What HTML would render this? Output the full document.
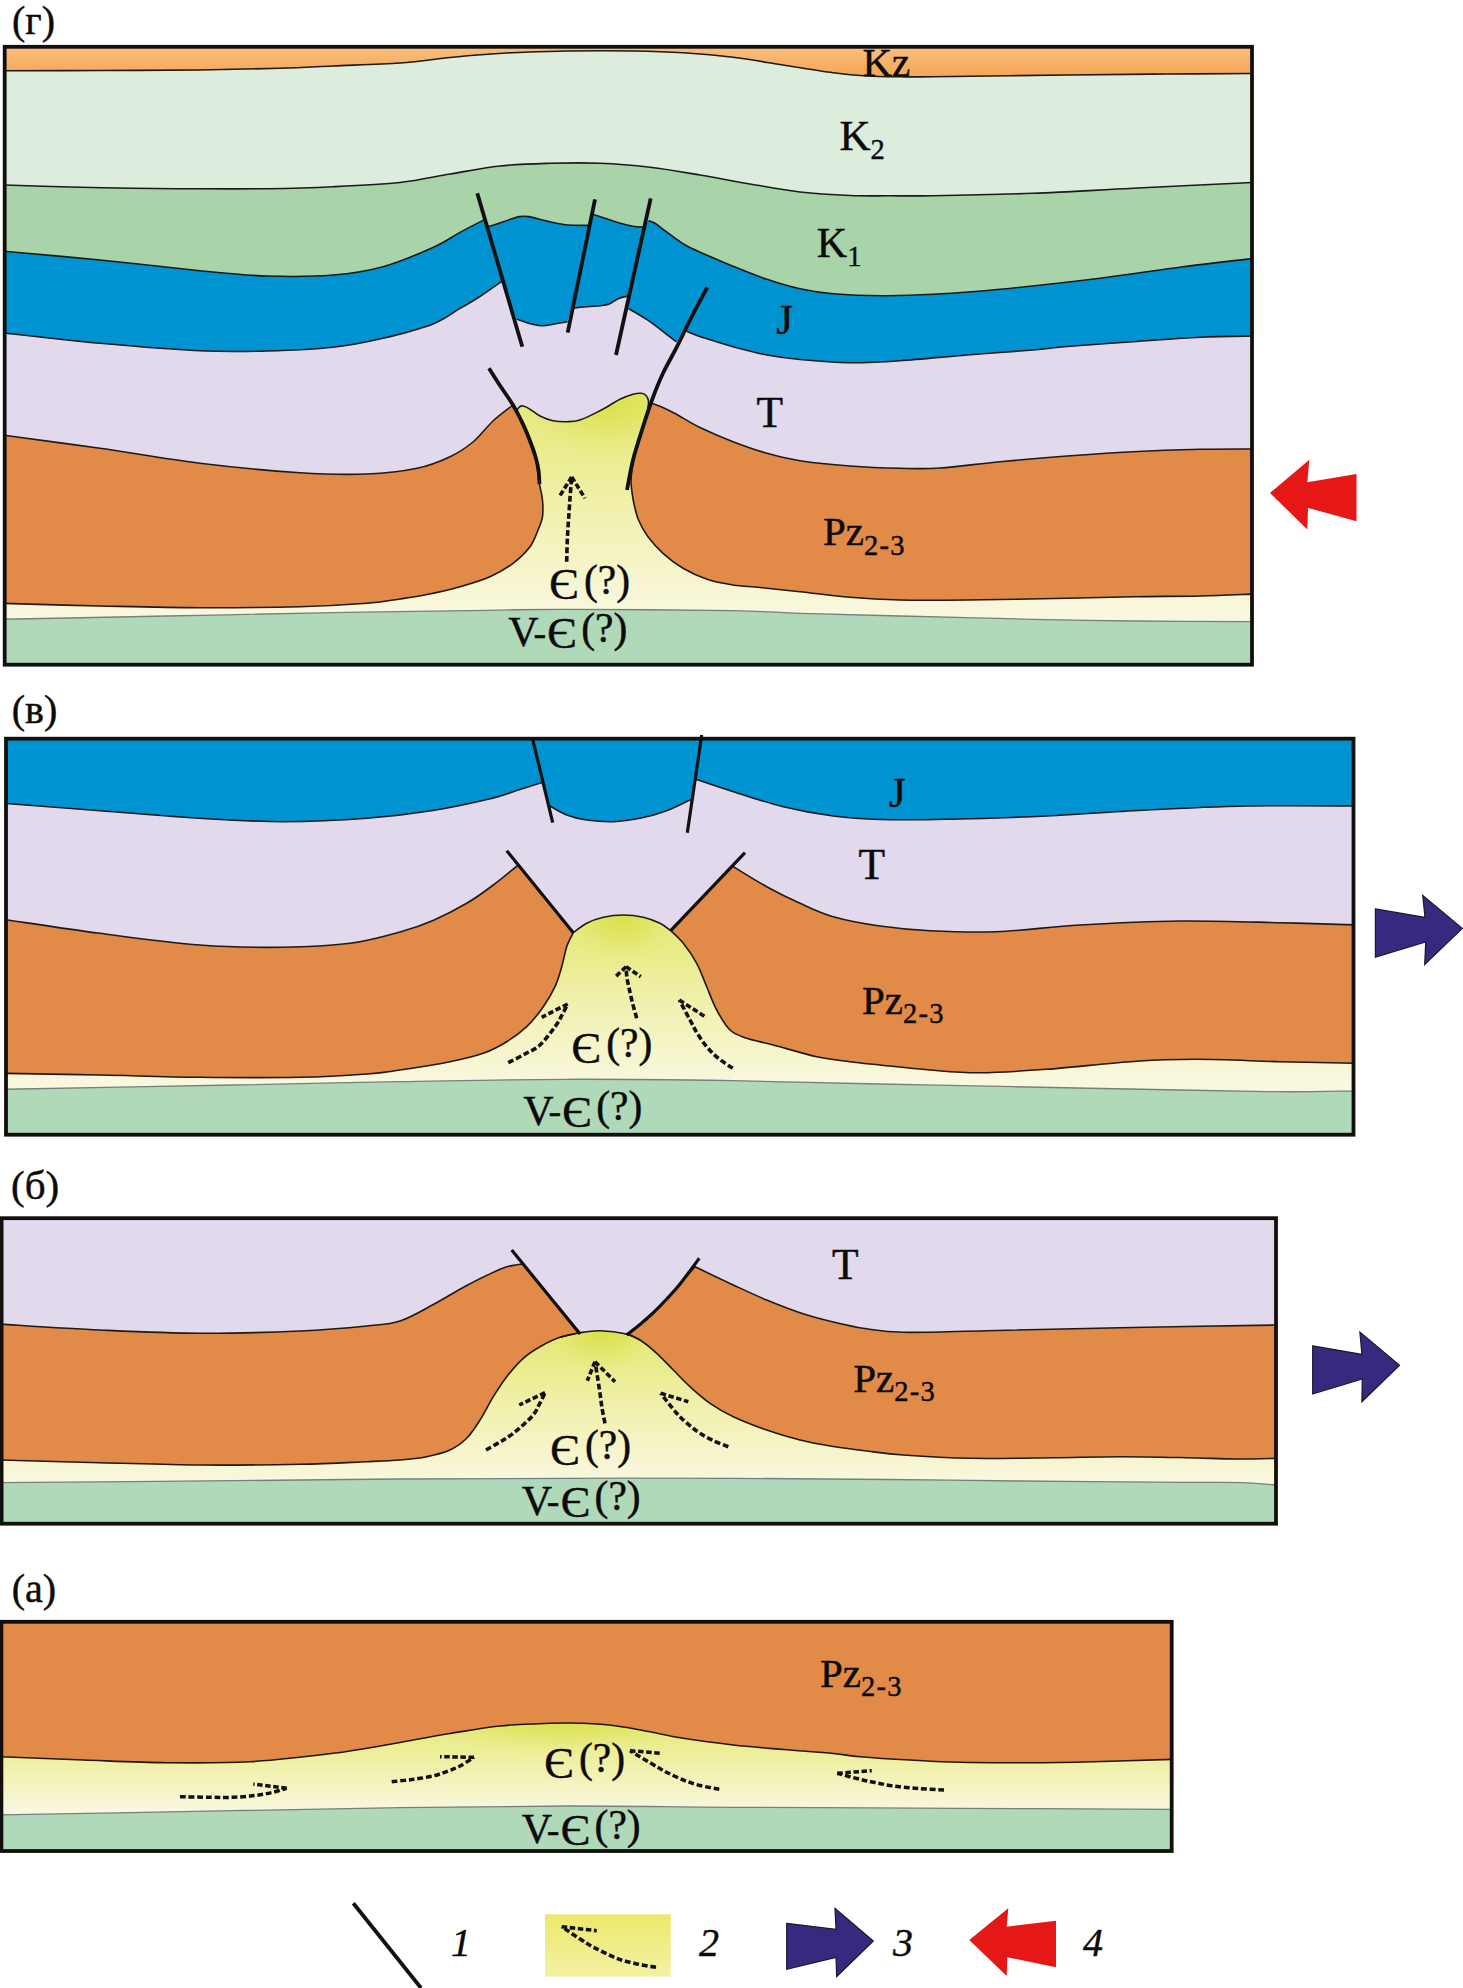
<!DOCTYPE html>
<html lang="ru">
<head>
<meta charset="utf-8">
<title>Схема формирования соляного диапира</title>
<style>
html,body{margin:0;padding:0;background:#fff;}
body{width:1463px;height:1988px;overflow:hidden;}
svg{display:block;}
svg text{font-family:"Liberation Serif","Times New Roman",serif;fill:#0d0b0a;stroke:#0d0b0a;stroke-width:0.45px;}
</style>
</head>
<body>
<svg width="1463" height="1988" viewBox="0 0 1463 1988">
<rect width="1463" height="1988" fill="#fff"/>
<linearGradient id="gkz" gradientUnits="userSpaceOnUse" x1="0" y1="47" x2="0" y2="76"><stop offset="0" stop-color="#f9be7e"/><stop offset="1" stop-color="#f5a655"/></linearGradient>
<linearGradient id="gy1" gradientUnits="userSpaceOnUse" x1="0" y1="395" x2="0" y2="612"><stop offset="0" stop-color="#e5e878"/><stop offset="0.23" stop-color="#e9ec8a"/><stop offset="0.49" stop-color="#f0f0aa"/><stop offset="0.74" stop-color="#f4f4c4"/><stop offset="1" stop-color="#f9f7de"/></linearGradient>
<clipPath id="cg"><rect x="4.7" y="46.8" width="1247.3" height="617.9"/></clipPath>
<g clip-path="url(#cg)">
<rect x="0" y="40" width="1260" height="40" fill="url(#gkz)"/>
<path d="M1.7 70.8C18.1 70.8 66.9 70.6 100 70.5C133.1 70.4 170 70.4 200 70C230 69.6 257.8 69 280 68.3C302.2 67.6 313 66.9 333 66C353 65.1 380.5 64.4 400 63C419.5 61.6 435.3 59 450 57.5C464.7 56 476.8 55.1 488 54.3C499.2 53.5 503.8 53 517 52.5C530.2 52 547.7 51.2 567 51C586.3 50.8 613.7 50.7 633 51C652.3 51.3 666.3 51.7 683 52.7C699.7 53.8 716.3 55.2 733 57.3C749.7 59.3 766.3 62.4 783 65C799.7 67.6 819 70.9 833 72.7C847 74.5 855.8 75.3 867 76C878.2 76.7 889 76.7 900 76.8C911 76.9 905.2 77 933 76.7C960.8 76.4 1028 75.5 1067 75C1106 74.5 1135.7 74.2 1167 74C1198.3 73.8 1240.3 73.6 1255 73.5L1255 700 L1.7 700 Z" fill="#dcedde" />
<path d="M1.7 70.8C18.1 70.8 66.9 70.6 100 70.5C133.1 70.4 170 70.4 200 70C230 69.6 257.8 69 280 68.3C302.2 67.6 313 66.9 333 66C353 65.1 380.5 64.4 400 63C419.5 61.6 435.3 59 450 57.5C464.7 56 476.8 55.1 488 54.3C499.2 53.5 503.8 53 517 52.5C530.2 52 547.7 51.2 567 51C586.3 50.8 613.7 50.7 633 51C652.3 51.3 666.3 51.7 683 52.7C699.7 53.8 716.3 55.2 733 57.3C749.7 59.3 766.3 62.4 783 65C799.7 67.6 819 70.9 833 72.7C847 74.5 855.8 75.3 867 76C878.2 76.7 889 76.7 900 76.8C911 76.9 905.2 77 933 76.7C960.8 76.4 1028 75.5 1067 75C1106 74.5 1135.7 74.2 1167 74C1198.3 73.8 1240.3 73.6 1255 73.5" fill="none" stroke="#1d1a17" stroke-width="1.6" />
<path d="M1.7 185C13.1 185.3 48.1 186.4 70 187C91.9 187.6 111.3 188 133 188.3C154.7 188.6 177.7 188.7 200 188.8C222.3 188.9 244.8 189 267 188.7C289.2 188.3 310.8 187.7 333 186.7C355.2 185.7 380.5 184.6 400 182.5C419.5 180.4 433.3 176.8 450 174C466.7 171.2 483.3 167.8 500 166C516.7 164.2 533.3 163.8 550 163.3C566.7 162.9 583.3 162.6 600 163.3C616.7 164 633.3 165.4 650 167.3C666.7 169.2 683.3 172.2 700 175C716.7 177.8 733.3 181.2 750 184C766.7 186.8 783.3 190.1 800 192C816.7 193.9 835.3 194.9 850 195.5C864.7 196.1 874.2 195.8 888 195.8C901.8 195.8 908.8 196.1 933 195.7C957.2 195.3 999.7 194.5 1033 193.3C1066.3 192.1 1096 190.1 1133 188.3C1170 186.5 1234.7 183.3 1255 182.3L1255 700 L1.7 700 Z" fill="#a9d4aa" />
<path d="M1.7 185C13.1 185.3 48.1 186.4 70 187C91.9 187.6 111.3 188 133 188.3C154.7 188.6 177.7 188.7 200 188.8C222.3 188.9 244.8 189 267 188.7C289.2 188.3 310.8 187.7 333 186.7C355.2 185.7 380.5 184.6 400 182.5C419.5 180.4 433.3 176.8 450 174C466.7 171.2 483.3 167.8 500 166C516.7 164.2 533.3 163.8 550 163.3C566.7 162.9 583.3 162.6 600 163.3C616.7 164 633.3 165.4 650 167.3C666.7 169.2 683.3 172.2 700 175C716.7 177.8 733.3 181.2 750 184C766.7 186.8 783.3 190.1 800 192C816.7 193.9 835.3 194.9 850 195.5C864.7 196.1 874.2 195.8 888 195.8C901.8 195.8 908.8 196.1 933 195.7C957.2 195.3 999.7 194.5 1033 193.3C1066.3 192.1 1096 190.1 1133 188.3C1170 186.5 1234.7 183.3 1255 182.3" fill="none" stroke="#1d1a17" stroke-width="1.6" />
<path d="M1.7 251C18.1 252.5 66.9 256.7 100 260C133.1 263.3 172.2 268 200 270.7C227.8 273.4 244.8 275.3 267 276C289.2 276.7 313.7 276.6 333 275C352.3 273.4 366.3 271.3 383 266.7C399.7 262.1 420.2 253.2 433 247.5C445.8 241.8 451.6 237 460 232.4C468.4 227.8 479.4 222.2 483.3 220.2L488.7 226.6C491.6 225.7 500.8 222.6 505.9 220.9C511 219.2 515.5 217.3 519.3 216.6C523.1 215.9 524.4 215.9 528.9 216.6C533.4 217.3 540 219.6 546.1 220.9C552.2 222.2 558.3 223.9 565.3 224.7C572.3 225.4 584.4 225.3 588.2 225.4L593.6 214.6C595.5 215.2 600.8 216.9 605 218.3C609.2 219.7 614 221.5 618.7 222.8C623.4 224.1 629.1 225.6 633.1 226.3C637.1 227 641.4 227 643 227.1L648.3 220.7C649.4 221.1 652 221.4 655.1 223.3C658.2 225.2 661.5 228.2 666.6 231.9C671.7 235.6 679.3 241.6 685.7 245.3C692.1 249 696.9 250.7 704.8 254.2C712.7 257.7 722.6 262 733 266.2C743.4 270.4 755.8 275.5 767 279.3C778.2 283.1 789 286.4 800 288.8C811 291.2 819.2 292.6 833 293.7C846.8 294.8 866.3 295.6 883 295.7C899.7 295.8 913.5 295.4 933 294.3C952.5 293.2 972.2 292 1000 289.3C1027.8 286.6 1069.5 282.1 1100 278.3C1130.5 274.5 1157.2 270 1183 266.7C1208.8 263.4 1243 259.7 1255 258.3L1255 700 L1.7 700 Z" fill="#0093d1" />
<path d="M1.7 251C18.1 252.5 66.9 256.7 100 260C133.1 263.3 172.2 268 200 270.7C227.8 273.4 244.8 275.3 267 276C289.2 276.7 313.7 276.6 333 275C352.3 273.4 366.3 271.3 383 266.7C399.7 262.1 420.2 253.2 433 247.5C445.8 241.8 451.6 237 460 232.4C468.4 227.8 479.4 222.2 483.3 220.2" fill="none" stroke="#1d1a17" stroke-width="1.6" />
<path d="M488.7 226.6C491.6 225.7 500.8 222.6 505.9 220.9C511 219.2 515.5 217.3 519.3 216.6C523.1 215.9 524.4 215.9 528.9 216.6C533.4 217.3 540 219.6 546.1 220.9C552.2 222.2 558.3 223.9 565.3 224.7C572.3 225.4 584.4 225.3 588.2 225.4" fill="none" stroke="#1d1a17" stroke-width="1.6" />
<path d="M593.6 214.6C595.5 215.2 600.8 216.9 605 218.3C609.2 219.7 614 221.5 618.7 222.8C623.4 224.1 629.1 225.6 633.1 226.3C637.1 227 641.4 227 643 227.1" fill="none" stroke="#1d1a17" stroke-width="1.6" />
<path d="M648.3 220.7C649.4 221.1 652 221.4 655.1 223.3C658.2 225.2 661.5 228.2 666.6 231.9C671.7 235.6 679.3 241.6 685.7 245.3C692.1 249 696.9 250.7 704.8 254.2C712.7 257.7 722.6 262 733 266.2C743.4 270.4 755.8 275.5 767 279.3C778.2 283.1 789 286.4 800 288.8C811 291.2 819.2 292.6 833 293.7C846.8 294.8 866.3 295.6 883 295.7C899.7 295.8 913.5 295.4 933 294.3C952.5 293.2 972.2 292 1000 289.3C1027.8 286.6 1069.5 282.1 1100 278.3C1130.5 274.5 1157.2 270 1183 266.7C1208.8 263.4 1243 259.7 1255 258.3" fill="none" stroke="#1d1a17" stroke-width="1.6" />
<path d="M1.7 332.7C18.1 334.5 66.9 340.3 100 343.3C133.1 346.3 172.2 349.4 200 350.7C227.8 352 244.8 351.6 267 351C289.2 350.4 313.7 349.4 333 347.3C352.3 345.2 366.3 342.2 383 338.3C399.7 334.4 420.2 329 433 324C445.8 319 452.3 312.9 460 308.4C467.7 303.9 472.2 301.5 479.1 297C486 292.5 497.8 284.1 501.5 281.5L516.5 319C518.2 319.6 522.9 321.7 527 322.8C531.1 323.9 536.5 325.5 541.3 325.7C546.1 325.9 551.3 324.5 555.7 323.8C560.1 323.1 565.5 322.1 567.5 321.7L571 308.4C573.2 308.2 579.6 307.4 584.4 307C589.2 306.6 595.9 306.3 600 305.8C604.1 305.3 606 305.3 609.1 304.1C612.2 302.9 615.5 299.8 618.7 298.4C621.9 297 626.9 296.4 628.5 296L628.3 308.4C631.5 310.3 641 315.6 647.4 319.9C653.8 324.2 661.8 330.6 666.6 334.3C671.5 338 674.9 340.7 676.5 342L686.5 331.3C689.5 332.4 697 335.5 704.8 338.1C712.5 340.7 722.6 343.9 733 346.7C743.4 349.5 755.8 352.9 767 355C778.2 357.1 786.2 358.2 800 359.5C813.8 360.8 833.3 362.5 850 362.7C866.7 362.9 880.5 362 900 360.7C919.5 359.4 944.8 356.8 967 355C989.2 353.2 1016.3 351.4 1033 350C1049.7 348.6 1050.3 347.9 1067 346.5C1083.7 345.1 1110.8 343.2 1133 341.7C1155.2 340.2 1179.7 338.2 1200 337.3C1220.3 336.4 1245.8 336.2 1255 336L1255 700 L1.7 700 Z" fill="#e2d9ed" />
<path d="M1.7 332.7C18.1 334.5 66.9 340.3 100 343.3C133.1 346.3 172.2 349.4 200 350.7C227.8 352 244.8 351.6 267 351C289.2 350.4 313.7 349.4 333 347.3C352.3 345.2 366.3 342.2 383 338.3C399.7 334.4 420.2 329 433 324C445.8 319 452.3 312.9 460 308.4C467.7 303.9 472.2 301.5 479.1 297C486 292.5 497.8 284.1 501.5 281.5" fill="none" stroke="#1d1a17" stroke-width="1.6" />
<path d="M516.5 319C518.2 319.6 522.9 321.7 527 322.8C531.1 323.9 536.5 325.5 541.3 325.7C546.1 325.9 551.3 324.5 555.7 323.8C560.1 323.1 565.5 322.1 567.5 321.7" fill="none" stroke="#1d1a17" stroke-width="1.6" />
<path d="M571 308.4C573.2 308.2 579.6 307.4 584.4 307C589.2 306.6 595.9 306.3 600 305.8C604.1 305.3 606 305.3 609.1 304.1C612.2 302.9 615.5 299.8 618.7 298.4C621.9 297 626.9 296.4 628.5 296" fill="none" stroke="#1d1a17" stroke-width="1.6" />
<path d="M628.3 308.4C631.5 310.3 641 315.6 647.4 319.9C653.8 324.2 661.8 330.6 666.6 334.3C671.5 338 674.9 340.7 676.5 342" fill="none" stroke="#1d1a17" stroke-width="1.6" />
<path d="M686.5 331.3C689.5 332.4 697 335.5 704.8 338.1C712.5 340.7 722.6 343.9 733 346.7C743.4 349.5 755.8 352.9 767 355C778.2 357.1 786.2 358.2 800 359.5C813.8 360.8 833.3 362.5 850 362.7C866.7 362.9 880.5 362 900 360.7C919.5 359.4 944.8 356.8 967 355C989.2 353.2 1016.3 351.4 1033 350C1049.7 348.6 1050.3 347.9 1067 346.5C1083.7 345.1 1110.8 343.2 1133 341.7C1155.2 340.2 1179.7 338.2 1200 337.3C1220.3 336.4 1245.8 336.2 1255 336" fill="none" stroke="#1d1a17" stroke-width="1.6" />
<path d="M1.7 603.3C18.1 603.8 66.9 605.3 100 606C133.1 606.7 166.7 607.6 200 607.7C233.3 607.8 272.2 607.4 300 606.7C327.8 606 350.3 604.6 367 603.3C383.7 602 390 600.5 400 599C410 597.5 417 596.5 427 594.5C437 592.5 449.5 589.7 460 586.7C470.5 583.7 481.2 580.6 490 576.7C498.8 572.8 506.3 568.3 513 563.3C519.7 558.3 525.8 552.2 530 546.7C534.2 541.2 535.9 535 538 530C540.1 525 541.8 521.7 542.5 516.7C543.2 511.7 543 505.4 542.5 500C542 494.6 540.8 491.5 539.5 484C538.2 476.5 537.1 463.4 535 455C532.9 446.6 529.4 439.3 527 433.3C524.6 427.3 522.8 423.7 520.5 419C518.2 414.3 514.2 407.3 513 405L517 410C517.4 409.5 518.5 407.5 519.5 406.8C520.5 406.1 521.4 405.7 523 406C524.6 406.3 526.2 406.9 529 408.6C531.8 410.3 536 414 540 416C544 418 548.5 419.8 553 420.7C557.5 421.6 562.5 421.8 567 421.7C571.5 421.6 574.5 421.8 580 420C585.5 418.2 593.3 414.1 600 410.7C606.7 407.2 614.5 402 620 399.3C625.5 396.6 629.5 395.3 633 394.3C636.5 393.3 638.8 393.1 641 393.3C643.2 393.5 644.8 394.2 646 395.5C647.2 396.8 648.2 398.9 648.5 401C648.8 403.1 648.1 406.8 648 408L650.5 402.5C649.8 404.8 647.4 411.4 646 416C644.6 420.6 644.1 422.7 642 430C639.9 437.3 635.3 451.7 633.5 460C631.7 468.3 631.2 474.7 631 480C630.8 485.3 631.5 488 632 492C632.5 496 632.9 499.3 634 504C635.1 508.7 636.2 514.5 638.5 520C640.8 525.5 643.9 531.2 648 536.7C652.1 542.2 657.2 548 663 553.3C668.8 558.6 675.7 564 683 568.3C690.3 572.6 698.7 576.5 707 579.3C715.3 582.1 724.2 583.6 733 585C741.8 586.4 748.8 586.4 760 587.5C771.2 588.6 785 590.1 800 591.7C815 593.3 833.3 595.9 850 597.3C866.7 598.7 880.5 599.5 900 600C919.5 600.5 939.2 600.3 967 600C994.8 599.7 1039.3 598.8 1067 598.3C1094.7 597.8 1110.8 597.1 1133 596.7C1155.2 596.3 1179.7 596.5 1200 596C1220.3 595.5 1245.8 594.3 1255 594L1255 700 L1.7 700 Z" fill="url(#gy1)" />
<path d="M527 433.3C528.3 436.9 532.9 446.6 535 455C537.1 463.4 538.2 476.5 539.5 484C540.8 491.5 542 494.6 542.5 500C543 505.4 543.2 511.7 542.5 516.7C541.8 521.7 540.1 525 538 530C535.9 535 534.2 541.2 530 546.7C525.8 552.2 519.7 558.3 513 563.3C506.3 568.3 498.8 572.8 490 576.7C481.2 580.6 470.5 583.7 460 586.7C449.5 589.7 437 592.5 427 594.5C417 596.5 410 597.5 400 599C390 600.5 383.7 602 367 603.3C350.3 604.6 327.8 606 300 606.7C272.2 607.4 233.3 607.8 200 607.7C166.7 607.6 133.1 606.7 100 606C66.9 605.3 18.1 603.8 1.7 603.3" fill="none" stroke="url(#gy1)" stroke-width="7"/>
<path d="M642 430C640.6 435 635.3 451.7 633.5 460C631.7 468.3 631.2 474.7 631 480C630.8 485.3 631.5 488 632 492C632.5 496 632.9 499.3 634 504C635.1 508.7 636.2 514.5 638.5 520C640.8 525.5 643.9 531.2 648 536.7C652.1 542.2 657.2 548 663 553.3C668.8 558.6 675.7 564 683 568.3C690.3 572.6 698.7 576.5 707 579.3C715.3 582.1 724.2 583.6 733 585C741.8 586.4 748.8 586.4 760 587.5C771.2 588.6 785 590.1 800 591.7C815 593.3 833.3 595.9 850 597.3C866.7 598.7 880.5 599.5 900 600C919.5 600.5 939.2 600.3 967 600C994.8 599.7 1039.3 598.8 1067 598.3C1094.7 597.8 1110.8 597.1 1133 596.7C1155.2 596.3 1179.7 596.5 1200 596C1220.3 595.5 1245.8 594.3 1255 594" fill="none" stroke="url(#gy1)" stroke-width="7"/>
<radialGradient id="yc1g" gradientUnits="userSpaceOnUse" cx="0" cy="0" r="1" gradientTransform="translate(606 399) scale(92 60)"><stop offset="0" stop-color="#d8df48" stop-opacity="0.95"/><stop offset="0.45" stop-color="#dce252" stop-opacity="0.589"/><stop offset="1" stop-color="#e6e97c" stop-opacity="0"/></radialGradient>
<clipPath id="yc1"><path d="M1.7 603.3C18.1 603.8 66.9 605.3 100 606C133.1 606.7 166.7 607.6 200 607.7C233.3 607.8 272.2 607.4 300 606.7C327.8 606 350.3 604.6 367 603.3C383.7 602 390 600.5 400 599C410 597.5 417 596.5 427 594.5C437 592.5 449.5 589.7 460 586.7C470.5 583.7 481.2 580.6 490 576.7C498.8 572.8 506.3 568.3 513 563.3C519.7 558.3 525.8 552.2 530 546.7C534.2 541.2 535.9 535 538 530C540.1 525 541.8 521.7 542.5 516.7C543.2 511.7 543 505.4 542.5 500C542 494.6 540.8 491.5 539.5 484C538.2 476.5 537.1 463.4 535 455C532.9 446.6 529.4 439.3 527 433.3C524.6 427.3 522.8 423.7 520.5 419C518.2 414.3 514.2 407.3 513 405L517 410C517.4 409.5 518.5 407.5 519.5 406.8C520.5 406.1 521.4 405.7 523 406C524.6 406.3 526.2 406.9 529 408.6C531.8 410.3 536 414 540 416C544 418 548.5 419.8 553 420.7C557.5 421.6 562.5 421.8 567 421.7C571.5 421.6 574.5 421.8 580 420C585.5 418.2 593.3 414.1 600 410.7C606.7 407.2 614.5 402 620 399.3C625.5 396.6 629.5 395.3 633 394.3C636.5 393.3 638.8 393.1 641 393.3C643.2 393.5 644.8 394.2 646 395.5C647.2 396.8 648.2 398.9 648.5 401C648.8 403.1 648.1 406.8 648 408L650.5 402.5C649.8 404.8 647.4 411.4 646 416C644.6 420.6 644.1 422.7 642 430C639.9 437.3 635.3 451.7 633.5 460C631.7 468.3 631.2 474.7 631 480C630.8 485.3 631.5 488 632 492C632.5 496 632.9 499.3 634 504C635.1 508.7 636.2 514.5 638.5 520C640.8 525.5 643.9 531.2 648 536.7C652.1 542.2 657.2 548 663 553.3C668.8 558.6 675.7 564 683 568.3C690.3 572.6 698.7 576.5 707 579.3C715.3 582.1 724.2 583.6 733 585C741.8 586.4 748.8 586.4 760 587.5C771.2 588.6 785 590.1 800 591.7C815 593.3 833.3 595.9 850 597.3C866.7 598.7 880.5 599.5 900 600C919.5 600.5 939.2 600.3 967 600C994.8 599.7 1039.3 598.8 1067 598.3C1094.7 597.8 1110.8 597.1 1133 596.7C1155.2 596.3 1179.7 596.5 1200 596C1220.3 595.5 1245.8 594.3 1255 594L1255 700 L1.7 700 Z"/></clipPath>
<ellipse cx="606" cy="399" rx="92" ry="60" fill="url(#yc1g)" clip-path="url(#yc1)"/>
<path d="M1.7 435C18.1 437.2 66.9 443.6 100 448.3C133.1 453 166.7 459.2 200 463.3C233.3 467.4 272.2 470.9 300 472.7C327.8 474.5 347.5 474.7 367 474C386.5 473.3 403.2 471.2 417 468.3C430.8 465.4 440.7 461.1 450 456.7C459.3 452.3 465.8 447.9 473 442C480.2 436.1 486.3 427.2 493 421C499.7 414.8 509.7 407.7 513 405C514.2 407.3 518.2 414.3 520.5 419C522.8 423.7 524.6 427.3 527 433.3C529.4 439.3 532.9 446.6 535 455C537.1 463.4 538.2 476.5 539.5 484C540.8 491.5 542 494.6 542.5 500C543 505.4 543.2 511.7 542.5 516.7C541.8 521.7 540.1 525 538 530C535.9 535 534.2 541.2 530 546.7C525.8 552.2 519.7 558.3 513 563.3C506.3 568.3 498.8 572.8 490 576.7C481.2 580.6 470.5 583.7 460 586.7C449.5 589.7 437 592.5 427 594.5C417 596.5 410 597.5 400 599C390 600.5 383.7 602 367 603.3C350.3 604.6 327.8 606 300 606.7C272.2 607.4 233.3 607.8 200 607.7C166.7 607.6 133.1 606.7 100 606C66.9 605.3 18.1 603.8 1.7 603.3Z" fill="#e28a47" stroke="#1d1a17" stroke-width="1.6"/>
<path d="M1255 449C1245.8 449.1 1220.3 448.9 1200 449.3C1179.7 449.8 1155.2 450.6 1133 451.7C1110.8 452.8 1089.2 454.3 1067 456C1044.8 457.7 1021.2 459.7 1000 461.7C978.8 463.7 956.7 466.9 940 468C923.3 469.1 915 468.6 900 468.3C885 468 866.7 467.3 850 466C833.3 464.7 813.8 462.8 800 460.7C786.2 458.6 778.2 456.5 767 453.3C755.8 450.1 744.2 446 733 441.7C721.8 437.4 709.7 432.2 700 427.5C690.3 422.8 681.7 417 675 413.5C668.3 410 664.1 408.1 660 406.3C655.9 404.5 652.1 403.1 650.5 402.5C649.8 404.8 647.4 411.4 646 416C644.6 420.6 644.1 422.7 642 430C639.9 437.3 635.3 451.7 633.5 460C631.7 468.3 631.2 474.7 631 480C630.8 485.3 631.5 488 632 492C632.5 496 632.9 499.3 634 504C635.1 508.7 636.2 514.5 638.5 520C640.8 525.5 643.9 531.2 648 536.7C652.1 542.2 657.2 548 663 553.3C668.8 558.6 675.7 564 683 568.3C690.3 572.6 698.7 576.5 707 579.3C715.3 582.1 724.2 583.6 733 585C741.8 586.4 748.8 586.4 760 587.5C771.2 588.6 785 590.1 800 591.7C815 593.3 833.3 595.9 850 597.3C866.7 598.7 880.5 599.5 900 600C919.5 600.5 939.2 600.3 967 600C994.8 599.7 1039.3 598.8 1067 598.3C1094.7 597.8 1110.8 597.1 1133 596.7C1155.2 596.3 1179.7 596.5 1200 596C1220.3 595.5 1245.8 594.3 1255 594Z" fill="#e28a47" stroke="#1d1a17" stroke-width="1.6"/>
<path d="M1.7 619.3C29.2 618.8 111.8 617.1 167 616C222.2 614.9 279.5 613.7 333 612.7C386.5 611.8 449 610.9 488 610.3C527 609.7 526.2 609.2 567 609.3C607.8 609.4 694.2 610 733 610.7C771.8 611.4 772.2 612.4 800 613.3C827.8 614.2 861.2 615 900 616C938.8 617 994.2 618.5 1033 619.3C1071.8 620.1 1096 620.6 1133 621C1170 621.4 1234.7 621.6 1255 621.7L1255 700 L1.7 700 Z" fill="#b0d9ba" />
<path d="M1.7 619.3C29.2 618.8 111.8 617.1 167 616C222.2 614.9 279.5 613.7 333 612.7C386.5 611.8 449 610.9 488 610.3C527 609.7 526.2 609.2 567 609.3C607.8 609.4 694.2 610 733 610.7C771.8 611.4 772.2 612.4 800 613.3C827.8 614.2 861.2 615 900 616C938.8 617 994.2 618.5 1033 619.3C1071.8 620.1 1096 620.6 1133 621C1170 621.4 1234.7 621.6 1255 621.7" fill="none" stroke="#77807a" stroke-width="1.3" />
<path d="M517 410C517.4 409.5 518.5 407.5 519.5 406.8C520.5 406.1 521.4 405.7 523 406C524.6 406.3 526.2 406.9 529 408.6C531.8 410.3 536 414 540 416C544 418 548.5 419.8 553 420.7C557.5 421.6 562.5 421.8 567 421.7C571.5 421.6 574.5 421.8 580 420C585.5 418.2 593.3 414.1 600 410.7C606.7 407.2 614.5 402 620 399.3C625.5 396.6 629.5 395.3 633 394.3C636.5 393.3 638.8 393.1 641 393.3C643.2 393.5 644.8 394.2 646 395.5C647.2 396.8 648.2 398.9 648.5 401C648.8 403.1 648.1 406.8 648 408" fill="none" stroke="#1d1a17" stroke-width="1.6" />
</g>
<path d="M477.3 193.3L522.3 346.7" fill="none" stroke="#111" stroke-width="3.8" stroke-linecap="butt"/>
<path d="M595 199.3L567.7 332.7" fill="none" stroke="#111" stroke-width="3.8" stroke-linecap="butt"/>
<path d="M650.7 198.3L616 355" fill="none" stroke="#111" stroke-width="3.8" stroke-linecap="butt"/>
<path d="M707.3 287.3C704.4 292.8 695 310.1 690 320C685 329.9 681.5 337.8 677 346.7C672.5 355.6 667.2 364.4 663 373.3C658.8 382.2 655.5 390.6 652 400C648.5 409.4 645.2 420 642 430C638.8 440 635.5 450 633 460C630.5 470 628 485 627 490" fill="none" stroke="#111" stroke-width="3.8" stroke-linecap="butt"/>
<path d="M489 368.3C491 371.4 497 380.9 501 387C505 393.1 509.8 399.7 513 405C516.2 410.3 518.2 414.3 520.5 419C522.8 423.7 524.6 427.3 527 433.3C529.4 439.3 533.1 448.9 535 455C536.9 461.1 537.8 465.2 538.5 470C539.2 474.8 539.3 481.7 539.5 484" fill="none" stroke="#111" stroke-width="3.8" stroke-linecap="butt"/>
<path d="M566.7 561.7C566.8 558.1 567 547 567.3 540C567.6 533 568 527 568.5 520C569 513 569.5 505.2 570 498C570.5 490.8 571.4 480.5 571.7 477" fill="none" stroke="#111" stroke-width="3.6" stroke-dasharray="5.8 2.8"/>
<path d="M571.7 477 L559.3 496.7" fill="none" stroke="#111" stroke-width="3.6" stroke-dasharray="5.5 2.6"/>
<path d="M571.7 477 L585 498.3" fill="none" stroke="#111" stroke-width="3.6" stroke-dasharray="5.5 2.6"/>
<text x="862.5" y="76.2" font-size="41"  text-anchor="start" >Kz</text>
<text x="839.5" y="150.3" font-size="43">K<tspan font-size="28.5" dy="8.2" letter-spacing="1.2">2</tspan></text>
<text x="816.8" y="256.6" font-size="42">K<tspan font-size="28.5" dy="9.3" letter-spacing="1.2">1</tspan></text>
<text x="776.3" y="334" font-size="43"  text-anchor="start" >J</text>
<text x="756.4" y="427.2" font-size="43.5"  text-anchor="start" >T</text>
<text x="823" y="545.3" font-size="41">Pz<tspan font-size="28.5" dy="9.8" letter-spacing="1.2">2-3</tspan></text>
<text font-size="44.5" x="549.3" y="599.3">Є</text>
<text font-size="41.5" x="584" y="593.6">(?)</text>
<text font-size="42" x="508.3" y="646.4">V</text>
<text font-size="38" x="533.4" y="646.1">-</text>
<text font-size="44.5" x="547.3" y="648.2">Є</text>
<text font-size="41.5" x="581.2" y="642">(?)</text>
<rect x="4.7" y="46.8" width="1247.3" height="617.9" fill="none" stroke="#120f0d" stroke-width="3.8"/>
<text x="12" y="34.2" font-size="40"  text-anchor="start" >(г)</text>
<path d="M1270 492.9L1309.4 459.8L1307.3 482.2L1356.5 474L1356.5 521.3L1308 507.9L1307.3 529.5Z" fill="#e51717"/>
<linearGradient id="gy2" gradientUnits="userSpaceOnUse" x1="0" y1="915" x2="0" y2="1082"><stop offset="0" stop-color="#e5e878"/><stop offset="0.23" stop-color="#e9ec8a"/><stop offset="0.49" stop-color="#f0f0aa"/><stop offset="0.74" stop-color="#f4f4c4"/><stop offset="1" stop-color="#f9f7de"/></linearGradient>
<clipPath id="cv"><rect x="6" y="738.7" width="1347.5" height="396"/></clipPath>
<g clip-path="url(#cv)">
<rect x="0" y="730" width="1360" height="420" fill="#0093d1"/>
<path d="M3 803.3C19.2 804.5 67.2 808.2 100 810.7C132.8 813.2 169.5 816.5 200 818.3C230.5 820.1 255.2 821.7 283 821.7C310.8 821.7 342 820.2 367 818.3C392 816.4 412.8 813.7 433 810.5C453.2 807.3 473.5 802.8 488 799.3C502.5 795.8 511 792.3 520 789.5C529 786.7 538.3 783.7 542 782.5L548.3 805C551.4 806.7 560.3 812.5 566.7 815C573.1 817.5 578.9 818.9 586.7 820C594.5 821.1 604.4 822 613.3 821.7C622.2 821.4 631.1 820.1 640 818.3C648.9 816.5 658.2 813.8 666.7 810.7C675.2 807.6 687 801.4 691 799.5L695 779C701.4 781.1 718.6 787.1 733.3 791.7C748 796.3 766.6 802.7 783.3 806.7C800 810.8 817.2 813.9 833.3 816C849.4 818.1 861.1 819 880 819.5C898.9 820 918.9 819.9 946.7 819.3C974.5 818.7 1013.4 817.5 1046.7 816C1080 814.5 1113.4 811.7 1146.7 810C1180 808.3 1211.7 806.7 1246.7 806C1281.7 805.3 1338.2 806 1356.5 806L1356.5 1160 L3 1160 Z" fill="#e2d9ed" />
<path d="M3 803.3C19.2 804.5 67.2 808.2 100 810.7C132.8 813.2 169.5 816.5 200 818.3C230.5 820.1 255.2 821.7 283 821.7C310.8 821.7 342 820.2 367 818.3C392 816.4 412.8 813.7 433 810.5C453.2 807.3 473.5 802.8 488 799.3C502.5 795.8 511 792.3 520 789.5C529 786.7 538.3 783.7 542 782.5" fill="none" stroke="#1d1a17" stroke-width="1.6" />
<path d="M548.3 805C551.4 806.7 560.3 812.5 566.7 815C573.1 817.5 578.9 818.9 586.7 820C594.5 821.1 604.4 822 613.3 821.7C622.2 821.4 631.1 820.1 640 818.3C648.9 816.5 658.2 813.8 666.7 810.7C675.2 807.6 687 801.4 691 799.5" fill="none" stroke="#1d1a17" stroke-width="1.6" />
<path d="M695 779C701.4 781.1 718.6 787.1 733.3 791.7C748 796.3 766.6 802.7 783.3 806.7C800 810.8 817.2 813.9 833.3 816C849.4 818.1 861.1 819 880 819.5C898.9 820 918.9 819.9 946.7 819.3C974.5 818.7 1013.4 817.5 1046.7 816C1080 814.5 1113.4 811.7 1146.7 810C1180 808.3 1211.7 806.7 1246.7 806C1281.7 805.3 1338.2 806 1356.5 806" fill="none" stroke="#1d1a17" stroke-width="1.6" />
<path d="M3 1073.3C19.2 1073.6 67.2 1074.3 100 1075C132.8 1075.7 166.7 1076.9 200 1077.3C233.3 1077.7 272.2 1077.8 300 1077.3C327.8 1076.8 350.3 1075.2 367 1074C383.7 1072.8 386.2 1072 400 1070C413.8 1068 436.1 1064.5 450 1061.7C463.9 1058.9 473.9 1056.6 483.3 1053.3C492.8 1050 499.5 1046.1 506.7 1041.7C513.9 1037.3 520.6 1032.5 526.7 1026.7C532.8 1020.9 538.6 1013.4 543.3 1006.7C548 1000 551.9 993.4 555 986.7C558.1 980 559.8 973.4 561.7 966.7C563.7 960 564.8 952.4 566.7 946.7C568.6 941 572.2 935 573.3 932.7L573.3 932.7C575.5 931.1 581.7 925.9 586.7 923.3C591.7 920.7 597.2 918.7 603.3 917.3C609.4 915.9 616.6 915 623.3 915C630 915 637.2 915.9 643.3 917.3C649.4 918.7 655.4 921.1 660 923.3C664.6 925.5 668.9 929.5 670.7 930.7L670.7 930.7C672.8 932.8 679 937.9 683.3 943.3C687.6 948.7 692.8 956.1 696.7 963.3C700.6 970.5 703.4 978.9 706.7 986.7C710 994.5 712.8 1002.8 716.7 1010C720.6 1017.2 725 1025.3 730 1030C735 1034.7 739.5 1035.8 746.7 1038.3C753.9 1040.8 761.6 1041.9 773.3 1045C785 1048.1 803.9 1053.9 816.7 1056.7C829.5 1059.5 839.5 1060.3 850 1061.7C860.5 1063.1 866.7 1063.6 880 1065C893.3 1066.4 913.3 1068.7 930 1070C946.7 1071.3 960.5 1072.8 980 1072.7C999.5 1072.6 1021.7 1071.1 1046.7 1069.3C1071.7 1067.5 1105 1063.4 1130 1061.7C1155 1060 1171.7 1059.3 1196.7 1059.3C1221.7 1059.3 1253.4 1061 1280 1061.7C1306.6 1062.4 1343.8 1063 1356.5 1063.3L1356.5 1160 L3 1160 Z" fill="url(#gy2)" />
<path d="M561.7 966.7C560.6 970 558.1 980 555 986.7C551.9 993.4 548 1000 543.3 1006.7C538.6 1013.4 532.8 1020.9 526.7 1026.7C520.6 1032.5 513.9 1037.3 506.7 1041.7C499.5 1046.1 492.8 1050 483.3 1053.3C473.9 1056.6 463.9 1058.9 450 1061.7C436.1 1064.5 413.8 1068 400 1070C386.2 1072 383.7 1072.8 367 1074C350.3 1075.2 327.8 1076.8 300 1077.3C272.2 1077.8 233.3 1077.7 200 1077.3C166.7 1076.9 132.8 1075.7 100 1075C67.2 1074.3 19.2 1073.6 3 1073.3" fill="none" stroke="url(#gy2)" stroke-width="7"/>
<path d="M696.7 963.3C698.4 967.2 703.4 978.9 706.7 986.7C710 994.5 712.8 1002.8 716.7 1010C720.6 1017.2 725 1025.3 730 1030C735 1034.7 739.5 1035.8 746.7 1038.3C753.9 1040.8 761.6 1041.9 773.3 1045C785 1048.1 803.9 1053.9 816.7 1056.7C829.5 1059.5 839.5 1060.3 850 1061.7C860.5 1063.1 866.7 1063.6 880 1065C893.3 1066.4 913.3 1068.7 930 1070C946.7 1071.3 960.5 1072.8 980 1072.7C999.5 1072.6 1021.7 1071.1 1046.7 1069.3C1071.7 1067.5 1105 1063.4 1130 1061.7C1155 1060 1171.7 1059.3 1196.7 1059.3C1221.7 1059.3 1253.4 1061 1280 1061.7C1306.6 1062.4 1343.8 1063 1356.5 1063.3" fill="none" stroke="url(#gy2)" stroke-width="7"/>
<radialGradient id="yc2g" gradientUnits="userSpaceOnUse" cx="0" cy="0" r="1" gradientTransform="translate(622 914) scale(62 52)"><stop offset="0" stop-color="#d8df48" stop-opacity="0.95"/><stop offset="0.45" stop-color="#dce252" stop-opacity="0.589"/><stop offset="1" stop-color="#e6e97c" stop-opacity="0"/></radialGradient>
<clipPath id="yc2"><path d="M3 1073.3C19.2 1073.6 67.2 1074.3 100 1075C132.8 1075.7 166.7 1076.9 200 1077.3C233.3 1077.7 272.2 1077.8 300 1077.3C327.8 1076.8 350.3 1075.2 367 1074C383.7 1072.8 386.2 1072 400 1070C413.8 1068 436.1 1064.5 450 1061.7C463.9 1058.9 473.9 1056.6 483.3 1053.3C492.8 1050 499.5 1046.1 506.7 1041.7C513.9 1037.3 520.6 1032.5 526.7 1026.7C532.8 1020.9 538.6 1013.4 543.3 1006.7C548 1000 551.9 993.4 555 986.7C558.1 980 559.8 973.4 561.7 966.7C563.7 960 564.8 952.4 566.7 946.7C568.6 941 572.2 935 573.3 932.7L573.3 932.7C575.5 931.1 581.7 925.9 586.7 923.3C591.7 920.7 597.2 918.7 603.3 917.3C609.4 915.9 616.6 915 623.3 915C630 915 637.2 915.9 643.3 917.3C649.4 918.7 655.4 921.1 660 923.3C664.6 925.5 668.9 929.5 670.7 930.7L670.7 930.7C672.8 932.8 679 937.9 683.3 943.3C687.6 948.7 692.8 956.1 696.7 963.3C700.6 970.5 703.4 978.9 706.7 986.7C710 994.5 712.8 1002.8 716.7 1010C720.6 1017.2 725 1025.3 730 1030C735 1034.7 739.5 1035.8 746.7 1038.3C753.9 1040.8 761.6 1041.9 773.3 1045C785 1048.1 803.9 1053.9 816.7 1056.7C829.5 1059.5 839.5 1060.3 850 1061.7C860.5 1063.1 866.7 1063.6 880 1065C893.3 1066.4 913.3 1068.7 930 1070C946.7 1071.3 960.5 1072.8 980 1072.7C999.5 1072.6 1021.7 1071.1 1046.7 1069.3C1071.7 1067.5 1105 1063.4 1130 1061.7C1155 1060 1171.7 1059.3 1196.7 1059.3C1221.7 1059.3 1253.4 1061 1280 1061.7C1306.6 1062.4 1343.8 1063 1356.5 1063.3L1356.5 1160 L3 1160 Z"/></clipPath>
<ellipse cx="622" cy="914" rx="62" ry="52" fill="url(#yc2g)" clip-path="url(#yc2)"/>
<path d="M3 919.3C19.2 921.6 67.2 929 100 933.3C132.8 937.6 169.5 942.7 200 945C230.5 947.3 258 947.6 283 947.3C308 947 330.5 945.8 350 943.3C369.5 940.8 386.2 935.8 400 932C413.8 928.2 421.9 925.3 433 920.5C444.1 915.7 456.6 909.2 466.7 903.3C476.8 897.4 484.7 891.4 493.3 885C501.9 878.6 514.1 868.3 518.3 865L573.3 932.7C572.2 935 568.6 941 566.7 946.7C564.8 952.4 563.7 960 561.7 966.7C559.8 973.4 558.1 980 555 986.7C551.9 993.4 548 1000 543.3 1006.7C538.6 1013.4 532.8 1020.9 526.7 1026.7C520.6 1032.5 513.9 1037.3 506.7 1041.7C499.5 1046.1 492.8 1050 483.3 1053.3C473.9 1056.6 463.9 1058.9 450 1061.7C436.1 1064.5 413.8 1068 400 1070C386.2 1072 383.7 1072.8 367 1074C350.3 1075.2 327.8 1076.8 300 1077.3C272.2 1077.8 233.3 1077.7 200 1077.3C166.7 1076.9 132.8 1075.7 100 1075C67.2 1074.3 19.2 1073.6 3 1073.3Z" fill="#e28a47" stroke="#1d1a17" stroke-width="1.6"/>
<path d="M1356.5 925C1343.8 924.6 1309.4 923.4 1280 922.7C1250.6 922 1213.3 920.6 1180 921C1146.7 921.4 1110.5 923.2 1080 925C1049.5 926.8 1021.7 930.8 996.7 931.7C971.7 932.7 949.5 931.7 930 930.7C910.5 929.8 896.1 928.3 880 926C863.9 923.7 846.6 920.5 833.3 916.7C820 912.9 811.1 908.3 800 903.3C788.9 898.3 778 892.9 766.7 886.7C755.4 880.5 738 869.5 732.3 866L670.7 930.7C672.8 932.8 679 937.9 683.3 943.3C687.6 948.7 692.8 956.1 696.7 963.3C700.6 970.5 703.4 978.9 706.7 986.7C710 994.5 712.8 1002.8 716.7 1010C720.6 1017.2 725 1025.3 730 1030C735 1034.7 739.5 1035.8 746.7 1038.3C753.9 1040.8 761.6 1041.9 773.3 1045C785 1048.1 803.9 1053.9 816.7 1056.7C829.5 1059.5 839.5 1060.3 850 1061.7C860.5 1063.1 866.7 1063.6 880 1065C893.3 1066.4 913.3 1068.7 930 1070C946.7 1071.3 960.5 1072.8 980 1072.7C999.5 1072.6 1021.7 1071.1 1046.7 1069.3C1071.7 1067.5 1105 1063.4 1130 1061.7C1155 1060 1171.7 1059.3 1196.7 1059.3C1221.7 1059.3 1253.4 1061 1280 1061.7C1306.6 1062.4 1343.8 1063 1356.5 1063.3Z" fill="#e28a47" stroke="#1d1a17" stroke-width="1.6"/>
<path d="M3 1089.3C41.3 1088.6 166.8 1086.3 233 1085C299.2 1083.7 344.4 1082.7 400 1081.7C455.6 1080.8 511.2 1079.5 566.7 1079.3C622.2 1079.1 681.1 1079.9 733.3 1080.7C785.5 1081.5 833.3 1083 880 1084C926.7 1085 963.3 1085.7 1013.3 1086.7C1063.3 1087.7 1135.5 1089.2 1180 1090C1224.5 1090.8 1250.6 1091.5 1280 1091.7C1309.4 1091.9 1343.8 1091.1 1356.5 1091L1356.5 1160 L3 1160 Z" fill="#b0d9ba" />
<path d="M3 1089.3C41.3 1088.6 166.8 1086.3 233 1085C299.2 1083.7 344.4 1082.7 400 1081.7C455.6 1080.8 511.2 1079.5 566.7 1079.3C622.2 1079.1 681.1 1079.9 733.3 1080.7C785.5 1081.5 833.3 1083 880 1084C926.7 1085 963.3 1085.7 1013.3 1086.7C1063.3 1087.7 1135.5 1089.2 1180 1090C1224.5 1090.8 1250.6 1091.5 1280 1091.7C1309.4 1091.9 1343.8 1091.1 1356.5 1091" fill="none" stroke="#77807a" stroke-width="1.3" />
<path d="M573.3 932.7C575.5 931.1 581.7 925.9 586.7 923.3C591.7 920.7 597.2 918.7 603.3 917.3C609.4 915.9 616.6 915 623.3 915C630 915 637.2 915.9 643.3 917.3C649.4 918.7 655.4 921.1 660 923.3C664.6 925.5 668.9 929.5 670.7 930.7" fill="none" stroke="#1d1a17" stroke-width="1.6" />
</g>
<path d="M532.7 739.3L552.7 822.7" fill="none" stroke="#111" stroke-width="3.2" stroke-linecap="butt"/>
<path d="M701.7 735L687.3 832.7" fill="none" stroke="#111" stroke-width="3.2" stroke-linecap="butt"/>
<path d="M506.7 850.7L573.3 932.7" fill="none" stroke="#111" stroke-width="3.2" stroke-linecap="butt"/>
<path d="M745 852.7L670.7 930.7" fill="none" stroke="#111" stroke-width="3.2" stroke-linecap="butt"/>
<path d="M636.7 1018.3C636 1015.8 633.7 1007.7 632.5 1003C631.3 998.3 630.4 994.2 629.5 990C628.6 985.8 627.6 981.9 627 978C626.4 974.1 626.2 968.6 626 966.7" fill="none" stroke="#111" stroke-width="3.6" stroke-dasharray="5.8 2.8"/>
<path d="M626 966.7 L615 977.3" fill="none" stroke="#111" stroke-width="3.6" stroke-dasharray="5.5 2.6"/>
<path d="M626 966.7 L640.7 976.7" fill="none" stroke="#111" stroke-width="3.6" stroke-dasharray="5.5 2.6"/>
<path d="M508.3 1062.7C511.1 1061.2 519.7 1057 525 1054C530.3 1051 535 1049.5 540 1045C545 1040.5 551.3 1031.7 555 1026.7C558.7 1021.7 559.9 1018.8 562 1015C564.1 1011.2 566.8 1005.8 567.7 1004" fill="none" stroke="#111" stroke-width="3.6" stroke-dasharray="5.8 2.8"/>
<path d="M567.7 1004 L541.7 1017.3" fill="none" stroke="#111" stroke-width="3.6" stroke-dasharray="5.5 2.6"/>
<path d="M732.7 1068.3C730.2 1066.6 722.3 1061.6 718 1058C713.7 1054.4 710.2 1050.9 706.7 1046.7C703.2 1042.5 699.8 1037.5 697 1033C694.2 1028.5 693 1025.5 690 1020C687 1014.5 681.1 1003.3 679.3 1000" fill="none" stroke="#111" stroke-width="3.6" stroke-dasharray="5.8 2.8"/>
<path d="M679.3 1000 L706 1017.3" fill="none" stroke="#111" stroke-width="3.6" stroke-dasharray="5.5 2.6"/>
<text x="889" y="807.3" font-size="43"  text-anchor="start" >J</text>
<text x="858.5" y="879.2" font-size="43.5"  text-anchor="start" >T</text>
<text x="862" y="1013.6" font-size="41">Pz<tspan font-size="28.5" dy="9.3" letter-spacing="1.2">2-3</tspan></text>
<text font-size="44.5" x="571.6" y="1062.7">Є</text>
<text font-size="41.5" x="606.3" y="1057">(?)</text>
<text font-size="42" x="523.3" y="1124.7">V</text>
<text font-size="38" x="548.4" y="1124.4">-</text>
<text font-size="44.5" x="562.3" y="1126.5">Є</text>
<text font-size="41.5" x="596.2" y="1120.3">(?)</text>
<rect x="6" y="738.7" width="1347.5" height="396" fill="none" stroke="#120f0d" stroke-width="3.8"/>
<text x="11.7" y="723.3" font-size="40"  text-anchor="start" >(в)</text>
<path d="M1375.4 908.9L1425 917.4L1422.7 895.3L1462.3 928.4L1424.7 964.6L1425.7 942L1375.4 957.1Z" fill="#38297f" stroke="#1b1730" stroke-width="1.2" stroke-linejoin="miter"/>
<linearGradient id="gy3" gradientUnits="userSpaceOnUse" x1="0" y1="1330" x2="0" y2="1480"><stop offset="0" stop-color="#e5e878"/><stop offset="0.23" stop-color="#e9ec8a"/><stop offset="0.49" stop-color="#f0f0aa"/><stop offset="0.74" stop-color="#f4f4c4"/><stop offset="1" stop-color="#f9f7de"/></linearGradient>
<clipPath id="cb"><rect x="1.6" y="1218.2" width="1274.4" height="305.5"/></clipPath>
<g clip-path="url(#cb)">
<rect x="-5" y="1210" width="1290" height="330" fill="#e2d9ed"/>
<path d="M-1.4 1460C15.5 1460.5 66.4 1461.9 100 1462.7C133.6 1463.5 166.7 1464.7 200 1465C233.3 1465.3 272.2 1464.8 300 1464.3C327.8 1463.8 350 1462.4 366.7 1461.7C383.4 1461 390 1460.8 400 1460C410 1459.2 418.4 1458.4 426.7 1456.7C435 1455 443.3 1453.1 450 1450C456.7 1446.9 461.7 1443.3 466.7 1438.3C471.7 1433.3 475.6 1426.9 480 1420C484.4 1413.1 488.9 1403.9 493.3 1396.7C497.8 1389.5 501.7 1383.1 506.7 1376.7C511.7 1370.3 517.8 1363.3 523.3 1358.3C528.8 1353.3 533.9 1350.2 540 1346.7C546.1 1343.2 553.3 1339.6 560 1337.3C566.7 1335 576.7 1333.5 580 1332.7L580 1332.7C583.3 1332.4 592.2 1330.5 600 1330.7C607.8 1330.9 622.2 1333.5 626.7 1334L626.7 1334C628.9 1335 635 1336.8 640 1340C645 1343.2 651.2 1348.3 656.7 1353.3C662.2 1358.3 667.8 1364.4 673.3 1370C678.8 1375.6 683.9 1381.2 690 1386.7C696.1 1392.2 702.8 1398.3 710 1403.3C717.2 1408.3 723.8 1412.2 733.3 1416.7C742.8 1421.2 755.6 1426.1 766.7 1430C777.8 1433.9 788.9 1437.2 800 1440C811.1 1442.8 822.2 1444.7 833.3 1446.5C844.4 1448.3 855 1449.6 866.7 1451C878.4 1452.4 886.1 1453.8 903.3 1455C920.5 1456.2 945 1457.8 970 1458.3C995 1458.8 1028.3 1458 1053.3 1457.7C1078.3 1457.4 1097.8 1456.7 1120 1456.7C1142.2 1456.7 1167.2 1457.3 1186.7 1457.7C1206.2 1458.1 1221.3 1458.9 1236.7 1459C1252.1 1459.1 1272 1458.4 1279 1458.3L1279 1540 L-1.4 1540 Z" fill="url(#gy3)" />
<path d="M540 1346.7C537.2 1348.6 528.8 1353.3 523.3 1358.3C517.8 1363.3 511.7 1370.3 506.7 1376.7C501.7 1383.1 497.8 1389.5 493.3 1396.7C488.9 1403.9 484.4 1413.1 480 1420C475.6 1426.9 471.7 1433.3 466.7 1438.3C461.7 1443.3 456.7 1446.9 450 1450C443.3 1453.1 435 1455 426.7 1456.7C418.4 1458.4 410 1459.2 400 1460C390 1460.8 383.4 1461 366.7 1461.7C350 1462.4 327.8 1463.8 300 1464.3C272.2 1464.8 233.3 1465.3 200 1465C166.7 1464.7 133.6 1463.5 100 1462.7C66.4 1461.9 15.5 1460.5 -1.4 1460" fill="none" stroke="url(#gy3)" stroke-width="7"/>
<path d="M656.7 1353.3C659.5 1356.1 667.8 1364.4 673.3 1370C678.8 1375.6 683.9 1381.2 690 1386.7C696.1 1392.2 702.8 1398.3 710 1403.3C717.2 1408.3 723.8 1412.2 733.3 1416.7C742.8 1421.2 755.6 1426.1 766.7 1430C777.8 1433.9 788.9 1437.2 800 1440C811.1 1442.8 822.2 1444.7 833.3 1446.5C844.4 1448.3 855 1449.6 866.7 1451C878.4 1452.4 886.1 1453.8 903.3 1455C920.5 1456.2 945 1457.8 970 1458.3C995 1458.8 1028.3 1458 1053.3 1457.7C1078.3 1457.4 1097.8 1456.7 1120 1456.7C1142.2 1456.7 1167.2 1457.3 1186.7 1457.7C1206.2 1458.1 1221.3 1458.9 1236.7 1459C1252.1 1459.1 1272 1458.4 1279 1458.3" fill="none" stroke="url(#gy3)" stroke-width="7"/>
<radialGradient id="yc3g" gradientUnits="userSpaceOnUse" cx="0" cy="0" r="1" gradientTransform="translate(602 1329) scale(62 46)"><stop offset="0" stop-color="#d8df48" stop-opacity="0.95"/><stop offset="0.45" stop-color="#dce252" stop-opacity="0.589"/><stop offset="1" stop-color="#e6e97c" stop-opacity="0"/></radialGradient>
<clipPath id="yc3"><path d="M-1.4 1460C15.5 1460.5 66.4 1461.9 100 1462.7C133.6 1463.5 166.7 1464.7 200 1465C233.3 1465.3 272.2 1464.8 300 1464.3C327.8 1463.8 350 1462.4 366.7 1461.7C383.4 1461 390 1460.8 400 1460C410 1459.2 418.4 1458.4 426.7 1456.7C435 1455 443.3 1453.1 450 1450C456.7 1446.9 461.7 1443.3 466.7 1438.3C471.7 1433.3 475.6 1426.9 480 1420C484.4 1413.1 488.9 1403.9 493.3 1396.7C497.8 1389.5 501.7 1383.1 506.7 1376.7C511.7 1370.3 517.8 1363.3 523.3 1358.3C528.8 1353.3 533.9 1350.2 540 1346.7C546.1 1343.2 553.3 1339.6 560 1337.3C566.7 1335 576.7 1333.5 580 1332.7L580 1332.7C583.3 1332.4 592.2 1330.5 600 1330.7C607.8 1330.9 622.2 1333.5 626.7 1334L626.7 1334C628.9 1335 635 1336.8 640 1340C645 1343.2 651.2 1348.3 656.7 1353.3C662.2 1358.3 667.8 1364.4 673.3 1370C678.8 1375.6 683.9 1381.2 690 1386.7C696.1 1392.2 702.8 1398.3 710 1403.3C717.2 1408.3 723.8 1412.2 733.3 1416.7C742.8 1421.2 755.6 1426.1 766.7 1430C777.8 1433.9 788.9 1437.2 800 1440C811.1 1442.8 822.2 1444.7 833.3 1446.5C844.4 1448.3 855 1449.6 866.7 1451C878.4 1452.4 886.1 1453.8 903.3 1455C920.5 1456.2 945 1457.8 970 1458.3C995 1458.8 1028.3 1458 1053.3 1457.7C1078.3 1457.4 1097.8 1456.7 1120 1456.7C1142.2 1456.7 1167.2 1457.3 1186.7 1457.7C1206.2 1458.1 1221.3 1458.9 1236.7 1459C1252.1 1459.1 1272 1458.4 1279 1458.3L1279 1540 L-1.4 1540 Z"/></clipPath>
<ellipse cx="602" cy="1329" rx="62" ry="46" fill="url(#yc3g)" clip-path="url(#yc3)"/>
<path d="M-1.4 1324C15.5 1325 66.4 1328.5 100 1330C133.6 1331.5 166.7 1333.1 200 1333.3C233.3 1333.5 272.2 1332.2 300 1331C327.8 1329.8 350 1327.7 366.7 1326C383.4 1324.3 388.9 1324.6 400 1321C411.1 1317.4 422.2 1310.4 433.3 1304.5C444.4 1298.6 455.6 1291.4 466.7 1285.5C477.8 1279.6 492.4 1272.6 500 1269.3C507.6 1266 508.2 1266.5 512 1265.6C515.8 1264.7 521.2 1264.3 523 1264L580 1332.7C576.7 1333.5 566.7 1335 560 1337.3C553.3 1339.6 546.1 1343.2 540 1346.7C533.9 1350.2 528.8 1353.3 523.3 1358.3C517.8 1363.3 511.7 1370.3 506.7 1376.7C501.7 1383.1 497.8 1389.5 493.3 1396.7C488.9 1403.9 484.4 1413.1 480 1420C475.6 1426.9 471.7 1433.3 466.7 1438.3C461.7 1443.3 456.7 1446.9 450 1450C443.3 1453.1 435 1455 426.7 1456.7C418.4 1458.4 410 1459.2 400 1460C390 1460.8 383.4 1461 366.7 1461.7C350 1462.4 327.8 1463.8 300 1464.3C272.2 1464.8 233.3 1465.3 200 1465C166.7 1464.7 133.6 1463.5 100 1462.7C66.4 1461.9 15.5 1460.5 -1.4 1460Z" fill="#e28a47" stroke="#1d1a17" stroke-width="1.6"/>
<path d="M1279 1325C1252.5 1325.5 1168.7 1326.8 1120 1327.7C1071.3 1328.7 1022.8 1329.9 986.7 1330.7C950.6 1331.5 923.3 1332.6 903.3 1332.3C883.3 1332 878.4 1330.5 866.7 1328.8C855 1327.1 844.4 1324.7 833.3 1322C822.2 1319.3 811.1 1316.4 800 1312.7C788.9 1309 777.8 1304.6 766.7 1300C755.6 1295.4 745.2 1290.5 733.3 1285C721.3 1279.5 701.4 1269.8 695 1266.7C692.5 1269.6 684.7 1278.6 680 1284C675.3 1289.4 671.2 1294.2 666.7 1299C662.2 1303.8 657.5 1308.8 653 1313C648.5 1317.2 644.4 1321 640 1324.5C635.6 1328 628.9 1332.4 626.7 1334C628.9 1335 635 1336.8 640 1340C645 1343.2 651.2 1348.3 656.7 1353.3C662.2 1358.3 667.8 1364.4 673.3 1370C678.8 1375.6 683.9 1381.2 690 1386.7C696.1 1392.2 702.8 1398.3 710 1403.3C717.2 1408.3 723.8 1412.2 733.3 1416.7C742.8 1421.2 755.6 1426.1 766.7 1430C777.8 1433.9 788.9 1437.2 800 1440C811.1 1442.8 822.2 1444.7 833.3 1446.5C844.4 1448.3 855 1449.6 866.7 1451C878.4 1452.4 886.1 1453.8 903.3 1455C920.5 1456.2 945 1457.8 970 1458.3C995 1458.8 1028.3 1458 1053.3 1457.7C1078.3 1457.4 1097.8 1456.7 1120 1456.7C1142.2 1456.7 1167.2 1457.3 1186.7 1457.7C1206.2 1458.1 1221.3 1458.9 1236.7 1459C1252.1 1459.1 1272 1458.4 1279 1458.3Z" fill="#e28a47" stroke="#1d1a17" stroke-width="1.6"/>
<path d="M-1.4 1482.7C37.7 1482.4 166.1 1481.3 233 1480.7C299.9 1480.1 344.4 1479.4 400 1479C455.6 1478.6 511.2 1478.4 566.7 1478.3C622.2 1478.2 679.8 1478.1 733.3 1478.3C786.8 1478.5 839.9 1479 887.7 1479.5C935.5 1480 970.2 1480.5 1020 1481C1069.8 1481.5 1148.9 1482 1186.7 1482.3C1224.5 1482.6 1231.3 1482.3 1246.7 1482.8C1262.1 1483.3 1273.6 1484.9 1279 1485.3L1279 1540 L-1.4 1540 Z" fill="#b0d9ba" />
<path d="M-1.4 1482.7C37.7 1482.4 166.1 1481.3 233 1480.7C299.9 1480.1 344.4 1479.4 400 1479C455.6 1478.6 511.2 1478.4 566.7 1478.3C622.2 1478.2 679.8 1478.1 733.3 1478.3C786.8 1478.5 839.9 1479 887.7 1479.5C935.5 1480 970.2 1480.5 1020 1481C1069.8 1481.5 1148.9 1482 1186.7 1482.3C1224.5 1482.6 1231.3 1482.3 1246.7 1482.8C1262.1 1483.3 1273.6 1484.9 1279 1485.3" fill="none" stroke="#77807a" stroke-width="1.3" />
<path d="M560 1337.3C563.3 1336.5 573.3 1333.8 580 1332.7C586.7 1331.6 592.2 1330.5 600 1330.7C607.8 1330.9 620 1332.5 626.7 1334C633.4 1335.5 637.8 1339 640 1340" fill="none" stroke="#1d1a17" stroke-width="1.6" />
</g>
<path d="M511.7 1250L580 1334" fill="none" stroke="#111" stroke-width="3.2" stroke-linecap="butt"/>
<path d="M699.3 1258.3C696.1 1262.6 685.4 1277.2 680 1284C674.6 1290.8 671.2 1294.2 666.7 1299C662.2 1303.8 657.5 1308.8 653 1313C648.5 1317.2 644.4 1320.8 640 1324.5C635.6 1328.2 628.9 1333.2 626.7 1335" fill="none" stroke="#111" stroke-width="3.2" stroke-linecap="butt"/>
<path d="M605 1423.3C604.5 1420.8 602.8 1413 602 1408C601.2 1403 600.8 1398.5 600 1393.3C599.2 1388.1 598.3 1382.3 597.5 1377C596.7 1371.7 595.4 1364.2 595 1361.7" fill="none" stroke="#111" stroke-width="3.6" stroke-dasharray="5.8 2.8"/>
<path d="M595 1361.7 L587.3 1380.7" fill="none" stroke="#111" stroke-width="3.6" stroke-dasharray="5.5 2.6"/>
<path d="M595 1361.7 L615 1381.7" fill="none" stroke="#111" stroke-width="3.6" stroke-dasharray="5.5 2.6"/>
<path d="M486 1450C488.3 1448.7 495.4 1444.8 500 1442C504.6 1439.2 508 1437.5 513.3 1433.3C518.6 1429.1 527.4 1421.4 531.7 1416.7C536 1412 536.8 1409 539 1405C541.2 1401 544 1394.8 545 1392.7" fill="none" stroke="#111" stroke-width="3.6" stroke-dasharray="5.8 2.8"/>
<path d="M545 1392.7 L519.3 1405" fill="none" stroke="#111" stroke-width="3.6" stroke-dasharray="5.5 2.6"/>
<path d="M728.3 1446.7C725.8 1445.7 717.7 1442.7 713 1440.5C708.3 1438.3 704.2 1436 700 1433.3C695.8 1430.5 691.9 1427.3 688 1424C684.1 1420.7 681.2 1418.4 676.7 1413.3C672.2 1408.2 663.4 1396.6 660.7 1393.3" fill="none" stroke="#111" stroke-width="3.6" stroke-dasharray="5.8 2.8"/>
<path d="M660.7 1393.3 L688.3 1401.7" fill="none" stroke="#111" stroke-width="3.6" stroke-dasharray="5.5 2.6"/>
<text x="832" y="1278.8" font-size="43.5"  text-anchor="start" >T</text>
<text x="853.3" y="1391.7" font-size="41">Pz<tspan font-size="28.5" dy="9.3" letter-spacing="1.2">2-3</tspan></text>
<text font-size="44.5" x="550.3" y="1465">Є</text>
<text font-size="41.5" x="585" y="1459.3">(?)</text>
<text font-size="42" x="521.7" y="1514.7">V</text>
<text font-size="38" x="546.8" y="1514.4">-</text>
<text font-size="44.5" x="560.7" y="1516.5">Є</text>
<text font-size="41.5" x="594.6" y="1510.3">(?)</text>
<rect x="1.6" y="1218.2" width="1274.4" height="305.5" fill="none" stroke="#120f0d" stroke-width="3.8"/>
<text x="11" y="1198.6" font-size="41"  text-anchor="start" >(б)</text>
<path d="M1312.7 1345.8L1361.9 1354.4L1359.9 1332.1L1399.5 1365.3L1361.9 1401.8L1362.3 1379L1312.7 1394Z" fill="#38297f" stroke="#1b1730" stroke-width="1.2" stroke-linejoin="miter"/>
<linearGradient id="gy4" gradientUnits="userSpaceOnUse" x1="0" y1="1724" x2="0" y2="1810"><stop offset="0" stop-color="#e7ea80"/><stop offset="0.3" stop-color="#ecee96"/><stop offset="0.6" stop-color="#f2f2b6"/><stop offset="1" stop-color="#f9f7de"/></linearGradient>
<radialGradient id="ga" gradientUnits="userSpaceOnUse" cx="0" cy="0" r="1" gradientTransform="translate(565 1721) scale(150 34)"><stop offset="0" stop-color="#d8df48" stop-opacity="0.9"/><stop offset="0.45" stop-color="#dce252" stop-opacity="0.558"/><stop offset="1" stop-color="#e6e97c" stop-opacity="0"/></radialGradient>
<clipPath id="ca"><rect x="1.4" y="1621.8" width="1170.3" height="229.2"/></clipPath>
<g clip-path="url(#ca)">
<rect x="-5" y="1610" width="1190" height="250" fill="url(#gy4)"/>
<ellipse cx="565" cy="1721" rx="150" ry="34" fill="url(#ga)"/>
<path d="M-1.6 1756.7C12.5 1757.2 55.2 1759 83.3 1760C111.3 1761 138.9 1762.4 166.7 1762.7C194.5 1763 222.2 1763.3 250 1761.7C277.8 1760.1 308.3 1756.5 333.3 1753.3C358.3 1750.1 380.6 1745.8 400 1742.5C419.4 1739.2 433.3 1736.2 450 1733.5C466.7 1730.8 483.3 1727.7 500 1726C516.7 1724.3 536.1 1723.8 550 1723.3C563.9 1722.8 572.2 1722.8 583.3 1723.3C594.4 1723.8 605.6 1724.6 616.7 1726C627.8 1727.4 638.9 1729.7 650 1731.7C661.1 1733.8 669.4 1736.1 683.3 1738.3C697.2 1740.5 716.6 1743.1 733.3 1745C750 1746.9 766.6 1748.1 783.3 1749.5C800 1750.9 820.5 1752.3 833.3 1753.5C846.1 1754.7 847.2 1755.6 860 1756.7C872.8 1757.8 893.3 1759.1 910 1760C926.7 1760.9 940.5 1761.8 960 1762.3C979.5 1762.8 1004.5 1762.8 1026.7 1762.7C1048.9 1762.6 1068.6 1762.3 1093.3 1761.7C1118 1761.1 1161.1 1759.7 1174.7 1759.3L1174.7 1600L-1.6 1600Z" fill="#e28a47" />
<path d="M-1.6 1756.7C12.5 1757.2 55.2 1759 83.3 1760C111.3 1761 138.9 1762.4 166.7 1762.7C194.5 1763 222.2 1763.3 250 1761.7C277.8 1760.1 308.3 1756.5 333.3 1753.3C358.3 1750.1 380.6 1745.8 400 1742.5C419.4 1739.2 433.3 1736.2 450 1733.5C466.7 1730.8 483.3 1727.7 500 1726C516.7 1724.3 536.1 1723.8 550 1723.3C563.9 1722.8 572.2 1722.8 583.3 1723.3C594.4 1723.8 605.6 1724.6 616.7 1726C627.8 1727.4 638.9 1729.7 650 1731.7C661.1 1733.8 669.4 1736.1 683.3 1738.3C697.2 1740.5 716.6 1743.1 733.3 1745C750 1746.9 766.6 1748.1 783.3 1749.5C800 1750.9 820.5 1752.3 833.3 1753.5C846.1 1754.7 847.2 1755.6 860 1756.7C872.8 1757.8 893.3 1759.1 910 1760C926.7 1760.9 940.5 1761.8 960 1762.3C979.5 1762.8 1004.5 1762.8 1026.7 1762.7C1048.9 1762.6 1068.6 1762.3 1093.3 1761.7C1118 1761.1 1161.1 1759.7 1174.7 1759.3" fill="none" stroke="#1d1a17" stroke-width="1.6" />
<path d="M-1.6 1815C37.5 1814.3 166.1 1811.9 233 1810.7C299.9 1809.5 344.4 1808.5 400 1807.7C455.6 1806.9 511.2 1806.1 566.7 1806C622.2 1805.9 667.8 1806.9 733.3 1807.3C798.8 1807.7 886.4 1808 960 1808.3C1033.6 1808.6 1138.9 1809.1 1174.7 1809.3L1174.7 1870 L-1.6 1870 Z" fill="#b0d9ba" />
<path d="M-1.6 1815C37.5 1814.3 166.1 1811.9 233 1810.7C299.9 1809.5 344.4 1808.5 400 1807.7C455.6 1806.9 511.2 1806.1 566.7 1806C622.2 1805.9 667.8 1806.9 733.3 1807.3C798.8 1807.7 886.4 1808 960 1808.3C1033.6 1808.6 1138.9 1809.1 1174.7 1809.3" fill="none" stroke="#77807a" stroke-width="1.3" />
</g>
<path d="M180 1796.7C185 1796.8 201.2 1797.2 210 1797.3C218.8 1797.4 225.5 1797.6 233 1797.3C240.5 1797 248.5 1796.3 255 1795.5C261.5 1794.7 266.7 1793.7 272 1792.5C277.3 1791.3 284.2 1789 286.7 1788.3" fill="none" stroke="#111" stroke-width="3.5" stroke-dasharray="5.8 2.8"/>
<path d="M286.7 1788.3 L253.3 1784" fill="none" stroke="#111" stroke-width="3.5" stroke-dasharray="5.5 2.6"/>
<path d="M391.7 1781.7C395.1 1781.3 405.1 1780.5 412 1779.5C418.9 1778.5 427 1777.4 433 1776C439 1774.6 443.5 1772.7 448 1771C452.5 1769.3 455.7 1768.3 460 1766C464.3 1763.7 471.7 1758.8 474 1757.3" fill="none" stroke="#111" stroke-width="3.5" stroke-dasharray="5.8 2.8"/>
<path d="M474 1757.3 L440 1756.7" fill="none" stroke="#111" stroke-width="3.5" stroke-dasharray="5.5 2.6"/>
<path d="M719.3 1789.3C716.1 1788.7 706 1787 700 1785.5C694 1784 688.6 1782.1 683.3 1780C678 1777.9 672.4 1775.2 668 1773C663.6 1770.8 663 1770.4 656.7 1766.7C650.4 1763 634.5 1753.4 630 1750.7" fill="none" stroke="#111" stroke-width="3.5" stroke-dasharray="5.8 2.8"/>
<path d="M630 1750.7 L661.7 1753.3" fill="none" stroke="#111" stroke-width="3.5" stroke-dasharray="5.5 2.6"/>
<path d="M944 1790C939.7 1789.8 926.5 1789.2 918 1788.5C909.5 1787.8 900.5 1787 893.3 1786C886.1 1785 880.5 1783.6 875 1782.5C869.5 1781.4 866.3 1780.8 860 1779.3C853.7 1777.8 841.1 1774.3 837.3 1773.3" fill="none" stroke="#111" stroke-width="3.5" stroke-dasharray="5.8 2.8"/>
<path d="M837.3 1773.3 L871.7 1770.7" fill="none" stroke="#111" stroke-width="3.5" stroke-dasharray="5.5 2.6"/>
<text x="820" y="1686.7" font-size="41">Pz<tspan font-size="28.5" dy="9.3" letter-spacing="1.2">2-3</tspan></text>
<text font-size="44.5" x="544.3" y="1777.7">Є</text>
<text font-size="41.5" x="579" y="1772">(?)</text>
<text font-size="42" x="521.7" y="1843">V</text>
<text font-size="38" x="546.8" y="1842.7">-</text>
<text font-size="44.5" x="560.7" y="1844.8">Є</text>
<text font-size="41.5" x="594.6" y="1838.6">(?)</text>
<rect x="1.4" y="1621.8" width="1170.3" height="229.2" fill="none" stroke="#120f0d" stroke-width="3.8"/>
<text x="11.7" y="1601.7" font-size="40"  text-anchor="start" >(а)</text>
<path d="M353.3 1903.3L421 1988" fill="none" stroke="#111" stroke-width="3.8" />
<text x="451" y="1956" font-size="40" font-style="italic" text-anchor="start" >1</text>
<linearGradient id="gleg" gradientUnits="userSpaceOnUse" x1="0" y1="1914" x2="0" y2="1977"><stop offset="0" stop-color="#ece86c"/><stop offset="1" stop-color="#f4f1a4"/></linearGradient>
<rect x="545" y="1914.3" width="125.7" height="62.4" fill="url(#gleg)"/>
<path d="M656 1967.3C652.5 1966.7 641.5 1965 635 1963.5C628.5 1962 622.5 1960.5 616.7 1958.3C610.9 1956.1 605 1953 600 1950.5C595 1948 593.1 1947.3 586.7 1943.3C580.3 1939.3 565.9 1929.5 561.7 1926.7" fill="none" stroke="#111" stroke-width="3.6" stroke-dasharray="5.8 2.8"/>
<path d="M561.7 1926.7 L596.7 1930.7" fill="none" stroke="#111" stroke-width="3.6" stroke-dasharray="5.5 2.6"/>
<text x="699" y="1956" font-size="40" font-style="italic" text-anchor="start" >2</text>
<path d="M786.7 1923.3L836 1929.3L835 1908.3L873.3 1941L836.7 1976.7L836 1957.3L786.7 1969.3Z" fill="#38297f" stroke="#1b1730" stroke-width="1.2" stroke-linejoin="miter"/>
<text x="893" y="1956" font-size="40" font-style="italic" text-anchor="start" >3</text>
<path d="M969.3 1940L1008.3 1908.3L1006.7 1926.7L1056 1920.7L1056 1967.3L1007.3 1957.3L1006.7 1976Z" fill="#e51717"/>
<text x="1083" y="1956" font-size="40" font-style="italic" text-anchor="start" >4</text>
</svg>
</body>
</html>
